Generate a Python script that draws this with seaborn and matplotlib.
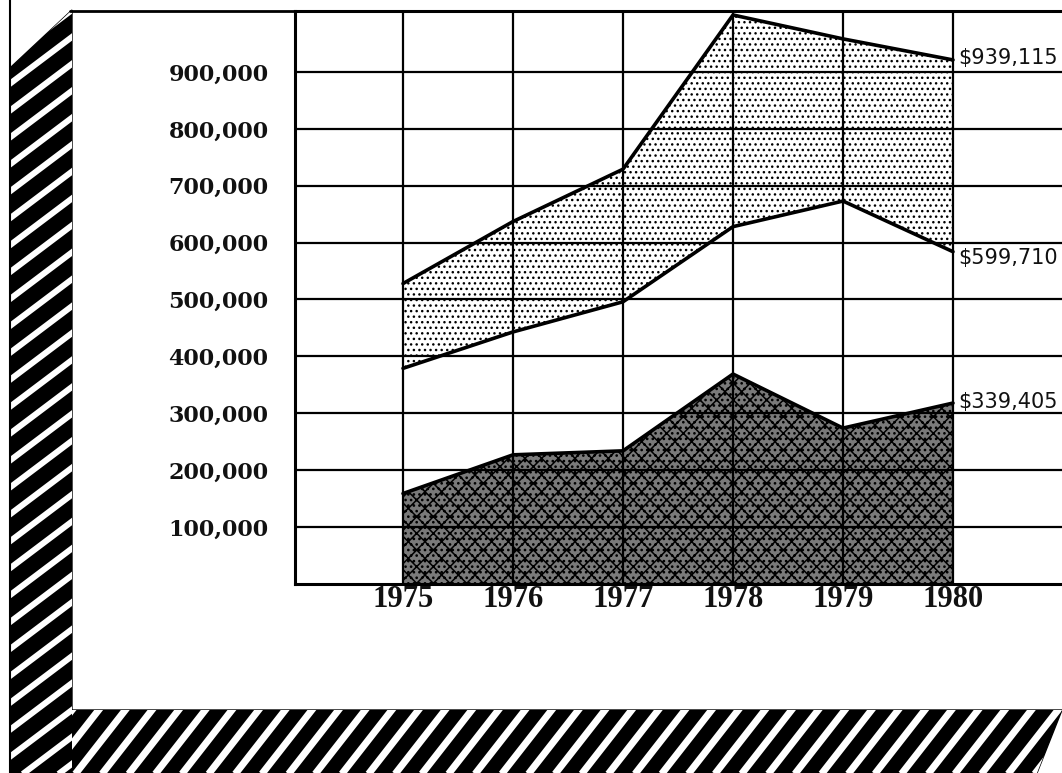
import numpy as np
import pandas as pd
import matplotlib
matplotlib.use("Agg")
import matplotlib.pyplot as plt
import seaborn as sns
from matplotlib.patches import Polygon
from matplotlib.lines import Line2D

# ---------------- data ----------------
years = [1975, 1976, 1977, 1978, 1979, 1980]
upper = [528000, 637000, 729000, 1000000, 958000, 921000]
middle = [379000, 443000, 496000, 628000, 673000, 584000]
lower = [159000, 227000, 234000, 369000, 274000, 318000]
end_labels = ["$939,115", "$599,710", "$339,405"]
year_labels = ["1975", "1976", "1977", "1978", "1979", "1980"]
y_ticks = [100000, 200000, 300000, 400000, 500000, 600000, 700000, 800000, 900000]
y_tick_labels = ["100,000", "200,000", "300,000", "400,000", "500,000",
                 "600,000", "700,000", "800,000", "900,000"]

sns.set_theme(style="white")
W, H = 1062, 773
fig = plt.figure(figsize=(W / 100, H / 100), dpi=100)
fig.patch.set_facecolor("white")

# ---------------- decorative frame (pixel coords) ----------------
bg = fig.add_axes([0, 0, 1, 1], zorder=0)
bg.set_xlim(0, W)
bg.set_ylim(H, 0)
bg.axis("off")


def striped_band(pts, angle_deg, spacing, white_px):
    patch = Polygon(pts, closed=True, facecolor="black", edgecolor="black", lw=1)
    bg.add_patch(patch)
    a = np.radians(angle_deg)
    d = np.array([np.cos(a), -np.sin(a)])
    n = np.array([np.sin(a), np.cos(a)])
    p = np.array(pts, dtype=float)
    proj = p @ n
    for c in np.arange(proj.min() - spacing, proj.max() + spacing, spacing):
        base = c * n
        a0 = base - 2000 * d
        a1 = base + 2000 * d
        ln = Line2D([a0[0], a1[0]], [a0[1], a1[1]], color="white",
                    lw=white_px * 0.72, solid_capstyle="butt")
        bg.add_line(ln)
        ln.set_clip_path(patch)


striped_band([(10, 68), (72, 10), (72, 773), (10, 773)], 37, 21.5, 6.0)
striped_band([(72, 710), (1062, 710), (1037, 773), (72, 773)], 52, 21.0, 7.0)
bg.plot([10, 10], [0, 773], color="black", lw=1.5)
bg.plot([70, 300], [11, 11], color="black", lw=2.0)

# ---------------- main chart ----------------
ax = fig.add_axes([295 / W, (H - 584) / H, (W - 295) / W, (584 - 11) / H], zorder=1)
ax.set_facecolor("white")

plt.rcParams["hatch.linewidth"] = 1.0
ax.fill_between(years, middle, upper, facecolor="white", edgecolor="black",
                hatch="...", linewidth=0, zorder=1)
plt.rcParams["hatch.linewidth"] = 1.1
ax.fill_between(years, [0] * len(years), lower, facecolor="#7a7a7a",
                edgecolor="black", hatch="xx...", linewidth=0, zorder=1)

for series in (upper, middle, lower):
    sns.lineplot(x=years, y=series, color="black", linewidth=2.6, ax=ax, zorder=4)

ax.set_xlim(1974.018, 1980.991)
ax.set_ylim(0, 1007000)
ax.set_xticks(years)
ax.set_xticklabels(year_labels, fontfamily="Liberation Serif", fontweight="bold",
                   fontsize=22, color="#111111")
ax.set_yticks(y_ticks)
ax.set_yticklabels(y_tick_labels, fontfamily="DejaVu Serif", fontweight="bold",
                   fontsize=16, color="#111111")
ax.tick_params(axis="x", length=0, pad=1)
ax.tick_params(axis="y", length=0, pad=19)
ax.grid(True, color="black", linewidth=1.6)
ax.set_axisbelow(False)
ax.set_xlabel("")
ax.set_ylabel("")

for side in ("left", "bottom", "top"):
    ax.spines[side].set_visible(True)
    ax.spines[side].set_color("black")
    ax.spines[side].set_linewidth(2.2)
ax.spines["right"].set_visible(False)

offsets = [1.5, -4.5, 0.5]
for lab, series, dy in zip(end_labels, (upper, middle, lower), offsets):
    ax.annotate(lab, xy=(years[-1], series[-1]), xytext=(4, dy),
                textcoords="offset points", ha="left", va="center",
                fontsize=15, fontfamily="DejaVu Sans", color="#111111",
                annotation_clip=False, zorder=5)

fig.savefig("out.png", dpi=100)
